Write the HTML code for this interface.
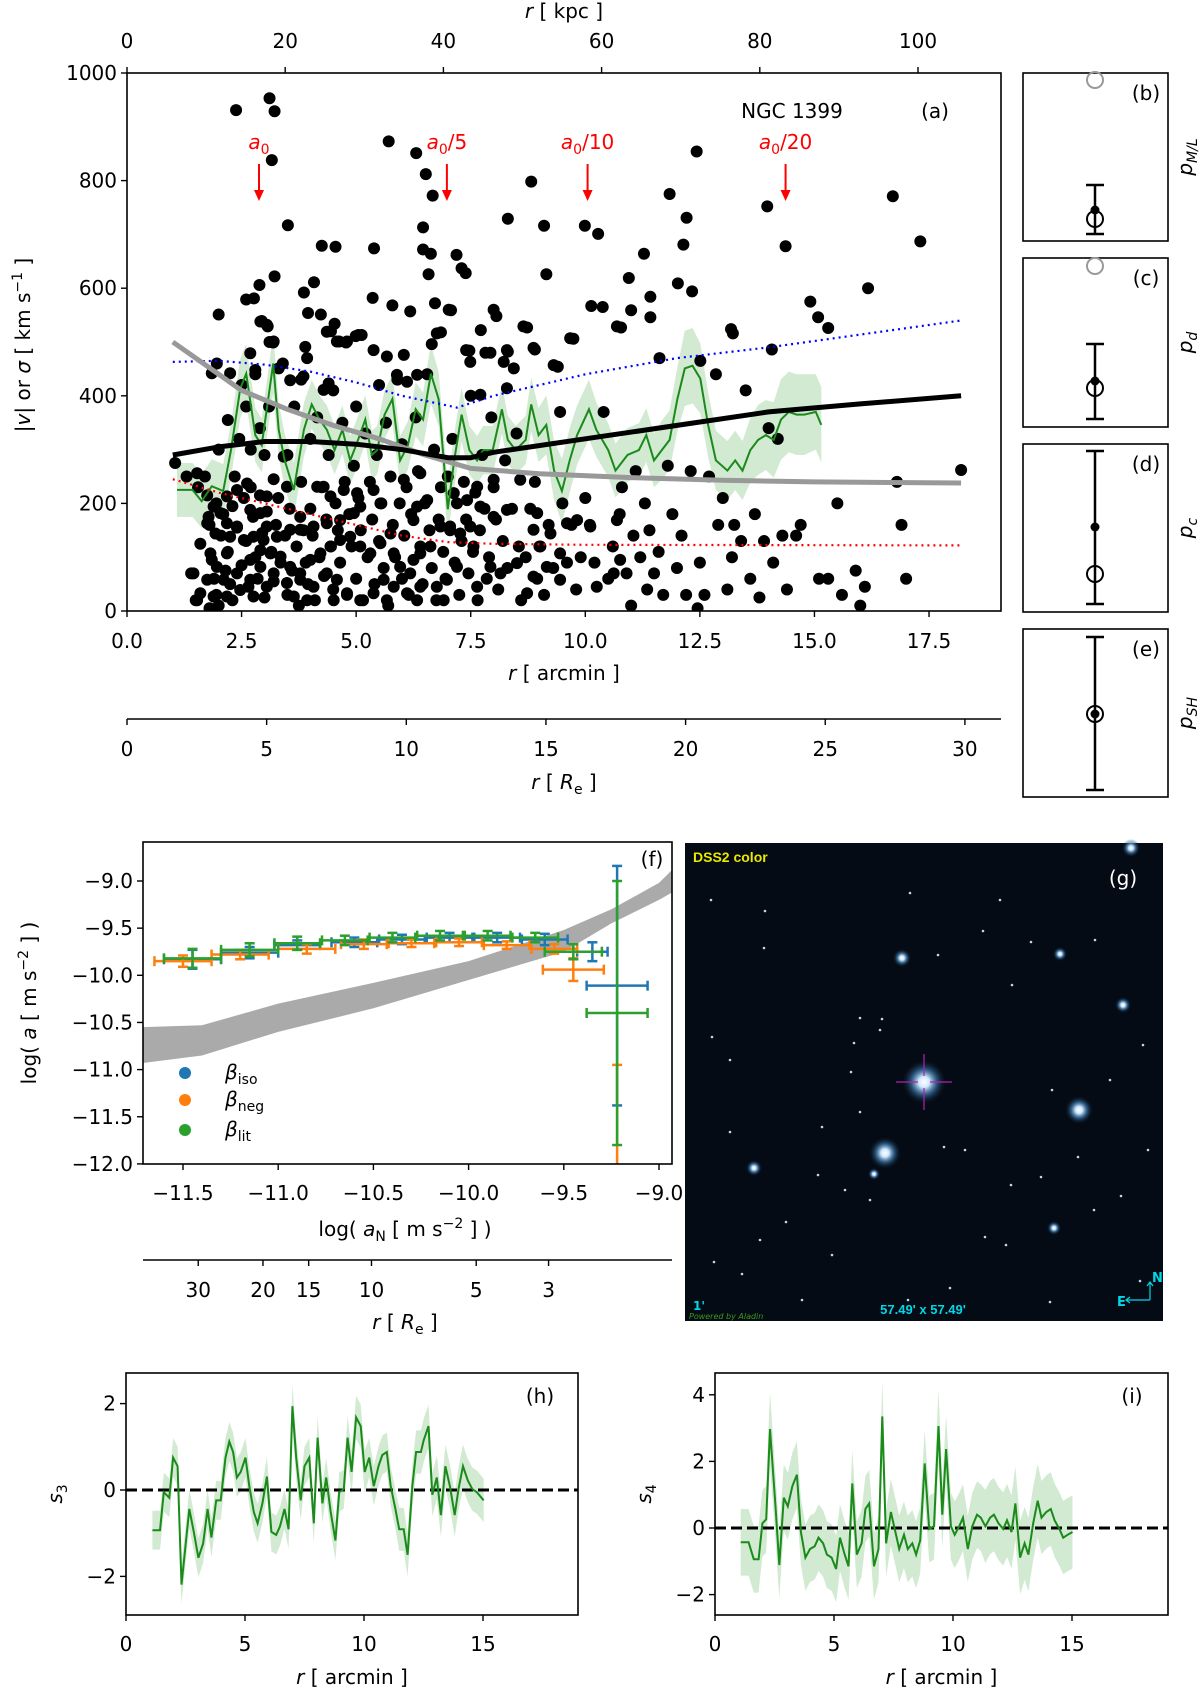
<!DOCTYPE html>
<html><head><meta charset="utf-8"><style>
html,body{margin:0;padding:0;background:#fff;}
svg{display:block;font-family:"DejaVu Sans","Liberation Sans",sans-serif;}
</style></head><body>
<svg id="fig" width="1200" height="1692" viewBox="0 0 1200 1692" xmlns="http://www.w3.org/2000/svg">
<defs>
<radialGradient id="starG"><stop offset="0" stop-color="#ffffff"/><stop offset="0.25" stop-color="#cfe8ff"/><stop offset="0.6" stop-color="#3d7fb8" stop-opacity="0.6"/><stop offset="1" stop-color="#0a1a2c" stop-opacity="0"/></radialGradient>
</defs>
</svg>
<script>
// ---------- panel (a) data ----------
const scatR=[2.38,3.11,3.22,3.16,5.71,6.31,6.52,6.67,8.82,12.43,3.51,6.46,4.25,4.55,5.39,6.46,6.63,7.19,8.31,9.10,9.99,10.28,11.84,12.21,12.14,13.97,14.37,16.71,17.31,11.28,7.30,7.39,9.15,6.58,3.22,2.89,2.77,2.60,4.08,3.86,2.00,3.95,4.23,2.94,3.07,3.11,3.19,4.53,4.45,4.63,4.78,4.99,5.12,5.36,5.79,6.18,6.72,7.07,6.85,7.47,7.72,7.93,8.06,8.31,8.73,8.90,9.40,9.74,10.13,10.38,10.78,10.95,11.00,11.42,11.42,11.62,12.02,12.33,12.51,13.18,13.22,14.07,14.91,15.08,15.30,16.17,
1.05,1.3,1.4,1.5,1.55,1.6,1.7,1.75,1.8,1.8,1.85,1.9,1.95,1.95,2.0,2.0,2.05,2.1,2.15,2.2,2.2,2.25,2.3,2.3,2.35,2.4,2.45,2.5,2.5,2.55,2.6,2.6,2.65,2.7,2.7,2.75,2.8,2.8,2.85,2.9,2.9,2.95,3.0,3.0,3.05,3.1,3.15,3.2,3.2,3.25,3.3,3.35,3.4,3.45,3.5,3.5,3.55,3.6,3.65,3.7,3.75,3.8,3.8,3.85,3.9,3.95,4.0,4.0,4.05,4.1,4.15,4.2,4.25,4.3,4.35,4.4,4.45,4.5,4.5,4.55,4.6,4.65,4.7,4.75,4.8,4.85,4.9,4.95,5.0,5.0,5.05,5.1,5.15,5.2,5.25,5.3,5.35,5.4,5.45,5.5,5.5,5.55,5.6,5.65,5.7,5.75,5.8,5.85,5.9,5.95,6.0,6.0,6.05,6.1,6.15,6.2,6.25,6.3,6.35,6.4,6.45,6.5,6.55,6.6,6.65,6.7,6.75,6.8,6.85,6.9,6.95,7.0,7.05,7.1,7.15,7.2,7.25,7.3,7.35,7.4,7.45,7.5,7.55,7.6,7.65,7.7,7.75,7.8,7.85,7.9,7.95,8.0,8.05,8.1,8.2,8.25,8.3,8.4,8.5,8.55,8.6,8.7,8.8,8.9,8.95,9.0,9.1,9.2,9.3,9.45,9.5,9.6,9.7,9.8,9.9,10.0,10.1,10.2,10.4,10.5,10.6,10.75,10.8,10.9,11.0,11.05,11.1,11.2,11.3,11.35,11.4,11.5,11.6,11.7,11.8,11.9,12.0,12.1,12.2,12.3,12.45,12.5,12.6,12.7,12.85,12.9,13.0,13.1,13.2,13.25,13.4,13.5,13.6,13.7,13.8,13.9,14.0,14.1,14.2,14.3,14.4,14.6,14.7,15.1,15.3,15.5,15.6,15.9,16.0,16.1,16.8,16.9,17.0,18.2,
1.78,1.89,2.04,1.75,2.18,1.93,2.40,2.69,2.91,3.05,2.76,2.98,3.27,3.56,3.78,4.07,4.36,4.65,4.95,5.09,5.38,5.53,4.44,4.73,5.02,4.29,1.82,2.18,1.96,1.75,2.11,2.40,2.69,2.91,3.13,3.35,3.56,3.78,4.00,4.22,4.44,4.65,4.87,5.09,5.31,5.53,5.75,5.82,5.96,6.18,6.40,6.62,6.84,7.05,7.27,7.49,7.56,7.20,6.98,6.76,6.40,6.11,5.82,5.60,5.38,5.09,4.80,4.58,4.36,4.07,3.78,3.49,3.20,2.91,2.69,2.47,2.18,1.89,1.60,1.53,2.76,3.05,3.64,3.93,4.51,5.67,6.33,6.91,7.64,7.93,8.15,8.51,8.73,8.87,9.16,9.45,9.45,9.02,8.87,9.24,9.60,9.82,10.11,10.25,10.62,10.76,10.69,8.95,8.29,8.00,7.71,7.42,7.13,7.64,8.00,8.58,6.25,6.40,6.04,6.55,6.33,2.18,2.40,2.62,3.05,3.49,3.78,4.15,3.42,1.53,1.45,2.25,2.55,
1.96,1.85,2.25,2.69,2.80,3.31,3.56,3.85,3.93,3.89,4.36,4.58,4.80,5.05,5.38,5.67,6.04,5.89,6.11,6.33,4.40,4.29,6.76,6.65,7.40,7.49,7.82,8.29,8.22,8.44,8.87,9.31,9.67,8.65,8.29,7.71,10.69,3.05,2.91,3.20,8.0,7.02];
const scatV=[931,953,929,838,873,851,812,772,798,854,717,713,679,677,674,672,664,662,729,716,716,701,775,731,681,752,678,771,687,664,637,628,626,626,622,606,581,579,611,592,551,554,551,539,529,500,499,534,520,501,499,511,513,582,568,557,572,559,518,484,522,480,548,482,527,486,454,506,567,565,527,619,559,584,546,470,609,594,465,524,516,486,575,546,526,600,
275,250,70,20,230,125,250,215,5,160,95,60,200,30,300,10,140,180,75,110,355,50,195,20,250,155,320,420,85,210,130,380,45,230,300,175,100,440,60,340,215,145,25,290,185,380,110,245,55,160,210,90,460,140,30,290,190,75,380,120,10,240,430,150,90,50,320,190,140,20,360,100,230,65,170,290,120,410,40,200,150,90,350,240,30,180,120,270,60,380,210,150,20,330,100,240,170,50,290,420,130,200,80,350,10,250,160,100,430,200,60,310,140,230,30,180,95,360,260,120,50,200,440,150,80,300,20,170,230,110,60,250,150,320,90,200,30,130,240,170,70,400,110,220,20,150,290,190,60,100,360,230,170,40,130,280,80,190,330,120,20,100,190,240,60,120,30,160,80,370,200,90,160,40,100,210,160,90,370,60,120,180,230,70,10,140,260,100,200,40,150,70,110,30,270,180,80,140,30,260,5,90,30,250,440,160,210,40,100,160,130,410,60,180,25,130,340,90,320,140,40,140,160,60,60,200,30,75,10,45,240,160,60,262,
175,194,182,163,163,144,157,188,182,157,138,132,138,151,151,157,163,169,182,194,225,200,213,225,219,231,107,107,82,58,58,70,95,113,107,101,82,70,95,107,120,132,138,120,107,126,144,107,82,70,107,120,157,157,144,157,120,82,58,45,45,33,45,58,33,20,33,58,70,45,58,52,70,82,58,39,27,27,33,20,27,45,27,20,20,20,20,20,45,82,70,89,33,64,82,58,107,120,151,144,163,169,157,45,70,95,169,182,188,175,194,206,219,231,244,244,169,256,244,206,194,213,225,237,213,231,175,231,287,256,70,138,132,
460,442,442,479,448,451,429,436,470,491,519,501,501,513,485,473,476,439,426,439,423,411,516,496,485,463,480,485,463,451,489,457,507,529,414,402,529,532,538,501,560,560];
const blackR=[1.0,2,3,4,5,6,7,7.5,8,10,12,14,16,18.2];
const blackV=[290,305,315,315,310,300,285,285,295,320,345,370,385,400];
const greyR=[1.0,1.5,2.5,3.5,4.5,5.5,6.5,7.5,9,11,13,15,18.2];
const greyV=[500,470,410,375,345,320,290,265,255,248,243,240,238];
const blueR=[1.0,2,3,4,5,6,7.2,8,10,12,14,18.2];
const blueV=[463,465,458,445,425,400,378,400,440,470,490,540];
const redR=[1.0,2,3,4,5,6,7,8,10,18.2];
const redV=[245,220,200,180,160,140,128,125,123,122];
const greenR=[1.09,1.43,1.63,1.85,2.10,2.27,2.47,2.60,2.80,2.94,3.19,3.31,3.44,3.64,3.86,4.03,4.20,4.36,4.53,4.70,4.87,5.00,5.20,5.34,5.46,5.62,5.79,5.96,6.13,6.30,6.46,6.63,6.80,7.00,7.14,7.30,7.47,7.64,7.77,7.98,8.18,8.31,8.48,8.70,8.82,8.98,9.15,9.32,9.49,9.66,9.82,10.08,10.24,10.50,10.66,10.92,11.17,11.33,11.50,11.67,11.84,12.01,12.17,12.34,12.51,12.68,12.85,13.10,13.27,13.43,13.60,13.77,13.94,14.11,14.27,14.44,14.61,14.78,15.03,15.15];
const greenV=[225,225,204,232,223,299,413,441,327,308,460,337,280,225,337,384,356,337,299,337,280,308,356,290,299,365,394,280,308,375,356,441,394,189,280,365,299,280,299,299,375,318,299,318,384,327,346,261,223,280,327,375,337,299,261,290,299,327,280,299,318,394,451,456,432,346,280,261,280,261,299,318,327,318,356,370,365,365,370,346];
const greenE=[50,50,50,50,50,50,55,55,50,50,55,50,50,50,50,45,45,45,45,45,45,45,45,45,45,45,45,45,45,50,50,55,50,50,50,50,45,45,45,45,45,45,45,45,50,50,55,55,60,60,55,55,50,50,50,50,50,50,50,55,55,60,70,70,65,60,55,55,55,55,60,65,65,70,75,75,75,75,70,70];
const arrowR=[2.88,6.98,10.05,14.37];
const arrowLab=['','/5','/10','/20'];
const tickArc=[0,2.5,5,7.5,10,12.5,15,17.5];
const tickArcLab=['0.0','2.5','5.0','7.5','10.0','12.5','15.0','17.5'];
const tickKpc=[0,20,40,60,80,100];
const tickRe=[0,5,10,15,20,25,30];
const tickV=[0,200,400,600,800,1000];
// ---------- panel (f) data ----------
const isoX=[-11.45,-11.15,-10.9,-10.6,-10.35,-10.1,-9.85,-9.6,-9.35,-9.22];
const isoY=[-9.83,-9.76,-9.68,-9.65,-9.62,-9.6,-9.6,-9.62,-9.75,-10.11];
const isoXe=[0.15,0.15,0.12,0.12,0.12,0.12,0.12,0.12,0.08,0.16];
const isoYe=[0.1,0.06,0.05,0.05,0.05,0.05,0.05,0.06,0.1,1.27];
const negX=[-11.5,-11.2,-10.85,-10.55,-10.3,-10.05,-9.8,-9.55,-9.45,-9.22];
const negY=[-9.85,-9.78,-9.72,-9.67,-9.66,-9.65,-9.68,-9.72,-9.94,-11.5];
const negXe=[0.15,0.15,0.15,0.12,0.12,0.12,0.12,0.12,0.16,0.0];
const negYe=[0.06,0.05,0.05,0.05,0.04,0.04,0.04,0.05,0.12,0.55];
const litX=[-11.45,-11.15,-10.9,-10.65,-10.4,-10.15,-9.9,-9.65,-9.45,-9.22];
const litY=[-9.82,-9.73,-9.66,-9.63,-9.6,-9.58,-9.58,-9.6,-9.75,-10.4];
const litXe=[0.15,0.15,0.12,0.12,0.12,0.12,0.12,0.12,0.15,0.16];
const litYe=[0.1,0.07,0.07,0.05,0.05,0.05,0.05,0.05,0.08,1.4];
const bandX=[-11.71,-11.4,-11.0,-10.5,-10.0,-9.5,-9.25,-9.0,-8.93];
const bandHi=[-10.55,-10.53,-10.3,-10.08,-9.85,-9.52,-9.3,-9.02,-8.88];
const bandLo=[-10.93,-10.85,-10.6,-10.35,-10.05,-9.75,-9.45,-9.2,-9.12];
const tickF=[-11.5,-11.0,-10.5,-10.0,-9.5,-9.0];
const tickFLab=['\u221211.5','\u221211.0','\u221210.5','\u221210.0','\u22129.5','\u22129.0'];
const tickFy=[-9.0,-9.5,-10.0,-10.5,-11.0,-11.5,-12.0];
const tickFyLab=['\u22129.0','\u22129.5','\u221210.0','\u221210.5','\u221211.0','\u221211.5','\u221212.0'];
const reFpos=[-11.42,-11.08,-10.84,-10.51,-9.96,-9.58];
const reFlab=['30','20','15','10','5','3'];
// ---------- panels (h),(i) ----------
const s3R=[1.11,1.43,1.59,1.82,1.98,2.17,2.33,2.66,2.85,3.04,3.24,3.43,3.59,3.79,3.98,4.18,4.34,4.50,4.66,4.82,5.02,5.18,5.37,5.53,5.73,5.92,6.11,6.31,6.47,6.66,6.83,6.99,7.15,7.34,7.50,7.70,7.89,8.05,8.25,8.41,8.60,8.80,8.96,9.15,9.31,9.48,9.67,9.86,10.03,10.22,10.41,10.61,10.77,10.96,11.12,11.32,11.48,11.67,11.83,12.03,12.19,12.39,12.51,12.71,12.87,13.06,13.23,13.42,13.61,13.81,13.97,14.16,14.36,14.55,14.74,15.03];
const s3V=[-0.93,-0.93,-0.05,-0.18,0.75,0.55,-2.19,-0.44,-0.97,-1.57,-1.24,-0.44,-1.10,-0.24,-0.24,0.75,1.12,0.88,0.29,0.42,0.75,0.09,-0.51,-0.77,-0.31,0.31,-0.97,-1.04,-0.84,-0.44,-0.91,1.94,0.75,-0.24,0.55,0.75,-0.77,1.21,-0.31,0.29,-0.51,-1.17,-0.05,0.02,1.21,0.42,1.68,1.48,0.42,0.75,0.09,0.55,0.81,0.88,0.09,-0.44,-0.91,-0.91,-1.50,0.09,0.88,0.88,1.15,1.48,-0.11,0.29,-0.58,0.55,0.09,-0.58,0.02,0.55,0.22,0.02,-0.05,-0.24];
const s3E=[0.45,0.45,0.45,0.45,0.45,0.45,0.45,0.45,0.45,0.45,0.45,0.45,0.45,0.45,0.45,0.45,0.45,0.45,0.45,0.45,0.45,0.45,0.45,0.45,0.45,0.45,0.45,0.45,0.45,0.45,0.45,0.5,0.5,0.45,0.45,0.45,0.45,0.5,0.45,0.45,0.45,0.45,0.45,0.45,0.5,0.5,0.5,0.5,0.5,0.45,0.45,0.45,0.45,0.45,0.45,0.45,0.5,0.5,0.5,0.5,0.5,0.5,0.5,0.5,0.5,0.5,0.5,0.5,0.5,0.5,0.5,0.5,0.5,0.5,0.5,0.5];
const s4R=[1.08,1.41,1.63,1.83,1.99,2.15,2.31,2.54,2.70,2.89,3.06,3.25,3.44,3.61,3.80,3.99,4.19,4.35,4.54,4.70,4.90,5.09,5.25,5.45,5.61,5.77,5.96,6.16,6.32,6.48,6.68,6.87,7.03,7.19,7.39,7.58,7.74,7.94,8.10,8.29,8.45,8.62,8.81,9.00,9.20,9.39,9.55,9.71,9.91,10.07,10.26,10.42,10.62,10.81,11.01,11.17,11.36,11.56,11.72,11.91,12.11,12.27,12.46,12.62,12.82,13.01,13.17,13.37,13.56,13.72,13.92,14.11,14.27,14.47,14.63,14.82,15.02];
const s4V=[-0.43,-0.43,-0.94,-0.94,0.14,0.26,2.97,0.65,-1.11,0.91,0.65,1.26,1.60,-0.12,-0.89,-0.63,-0.55,-0.29,-0.46,-0.80,-0.89,-1.23,-0.29,-0.80,-1.15,1.34,-0.80,-0.46,0.57,0.74,-1.15,-0.63,3.35,-0.46,0.48,-0.12,-0.63,-0.20,-0.63,-0.46,-0.80,-0.37,1.94,-0.03,0.05,3.06,0.40,2.37,0.05,-0.20,0.05,0.31,-0.63,0.05,0.40,0.31,0.05,0.31,0.40,0.14,-0.03,0.23,-0.12,0.74,-0.89,-0.46,-0.80,0.14,0.82,0.31,0.48,0.57,0.23,-0.03,-0.29,-0.20,-0.12];
const s4E=[1.0,1.0,1.0,1.0,1.0,1.0,1.1,1.0,1.0,1.0,1.0,1.0,1.0,1.0,1.0,1.0,1.0,1.0,1.0,1.0,1.0,1.0,1.0,1.0,1.0,1.0,1.0,1.0,1.0,1.0,1.0,1.0,1.1,1.0,1.0,1.0,1.0,1.0,1.0,1.0,1.0,1.0,1.0,1.0,1.0,1.1,1.0,1.0,1.0,1.0,1.0,1.0,1.0,1.0,1.0,1.0,1.1,1.1,1.1,1.1,1.1,1.1,1.1,1.1,1.1,1.1,1.1,1.1,1.1,1.1,1.1,1.1,1.1,1.1,1.1,1.1,1.1];
// ---------- image stars (g) ----------
const starX=[924,1079,885,902,1060,1131,754,1054,874,1123];
const starY=[1082,1110,1153,958,954,848,1168,1228,1174,1005];
const starS=[22,14,16,9,7,9,8,7,6,8];
const dotX=[711,765,764,712,730,860,854,882,938,983,1000,1031,1095,1143,1110,1052,851,860,822,818,845,870,944,1011,1041,1078,1121,1140,908,832,742,714,786,802,950,985,1006,1050,1094,1148,730,760,880,910,1012,965];
const dotY=[900,911,948,1037,1132,1018,1043,1019,955,931,900,942,940,1045,1080,1090,1072,1112,1127,1175,1190,1200,1147,1185,1177,1157,1196,1281,1300,1255,1274,1262,1222,1300,1288,1237,1245,1302,1210,1150,1060,1240,1030,893,985,1150];

const svg=document.getElementById('fig');
const NS='http://www.w3.org/2000/svg';
function el(tag,attrs,parent){const e=document.createElementNS(NS,tag);for(const k in attrs)e.setAttribute(k,attrs[k]);(parent||svg).appendChild(e);return e;}
function txt(x,y,s,anchor,size,extra){const t=el('text',Object.assign({x:x,y:y,'text-anchor':anchor||'middle','font-size':size||20,fill:'#000'},extra||{}));t.textContent=s;return t;}
function poly(xs,ys,fx,fy){return xs.map((v,i)=>fx(v).toFixed(1)+','+fy(ys[i]).toFixed(1)).join(' ');}

// ================= PANEL A =================
const AX0=127,AX1=1001,AY0=73,AY1=611;
const xa=r=>AX0+r*45.83, ya=v=>AY1-v*0.538;
const xk=k=>AX0+k*7.91, xre=q=>AX0+q*27.93;
const gA=el('g',{});


const clipA=el('clipPath',{id:'clipA'},gA);const cr=el('rect',{x:AX0,y:AY0,width:AX1-AX0,height:AY1-AY0},clipA);
const plotA=el('g',{'clip-path':'url(#clipA)'},gA);
const bandPts=greenR.map((r,i)=>xa(r)+','+ya(greenV[i]+greenE[i])).concat(greenR.slice().reverse().map((r,j)=>{const i=greenR.length-1-j;return xa(r)+','+ya(greenV[i]-greenE[i]);})).join(' ');
const gb=el('polygon',{points:bandPts,fill:'#2ca02c','fill-opacity':0.22,stroke:'none'},plotA);


for(let i=0;i<scatR.length;i++){const c=el('circle',{cx:xa(scatR[i]),cy:ya(scatV[i]),r:6,fill:'#000'},plotA);

}
const gl=el('polyline',{points:poly(greenR,greenV,xa,ya),fill:'none',stroke:'#1a8a1a','stroke-width':2},plotA);


const bl=el('polyline',{points:poly(blueR,blueV,xa,ya),fill:'none',stroke:'#0000ff','stroke-width':2.2,'stroke-dasharray':'2,4'},plotA);


const rl=el('polyline',{points:poly(redR,redV,xa,ya),fill:'none',stroke:'#ff0000','stroke-width':2.2,'stroke-dasharray':'2,4'},plotA);


const gyl=el('polyline',{points:poly(greyR,greyV,xa,ya),fill:'none',stroke:'#999','stroke-width':5,'stroke-linejoin':'round'},plotA);


const bkl=el('polyline',{points:poly(blackR,blackV,xa,ya),fill:'none',stroke:'#000','stroke-width':5,'stroke-linejoin':'round'},plotA);


for(let i=0;i<arrowR.length;i++){const x=xa(arrowR[i]);
const a=el('line',{x1:x,y1:164,x2:x,y2:196,stroke:'#ff0000','stroke-width':2},gA);


const h=el('polygon',{points:`${x-5},${190} ${x+5},${190} ${x},${201}`,fill:'#ff0000'},gA);


const t=el('text',{x:x,y:149,'text-anchor':'middle','font-size':20,fill:'#ff0000'},gA);


const s1=el('tspan',{'font-style':'italic'},t);s1.textContent='a';
const s2=el('tspan',{'font-size':14,dy:5},t);s2.textContent='0';
const s3=el('tspan',{dy:-5},t);s3.textContent=arrowLab[i];}
const frA=el('rect',{x:AX0,y:AY0,width:AX1-AX0,height:AY1-AY0,fill:'none',stroke:'#000','stroke-width':1.6},gA);


tickArc.forEach((r,i)=>{const x=xa(r);el('line',{x1:x,y1:AY1,x2:x,y2:AY1+6,stroke:'#000','stroke-width':1.4},gA);
const t=txt(x,648,tickArcLab[i]);
});
tickKpc.forEach(k=>{const x=xk(k);el('line',{x1:x,y1:AY0,x2:x,y2:AY0-6,stroke:'#000','stroke-width':1.4},gA);
const t=txt(x,48,String(k));
});
tickV.forEach(v=>{const y=ya(v);el('line',{x1:AX0,y1:y,x2:AX0-6,y2:y,stroke:'#000','stroke-width':1.4},gA);
const t=txt(117,y+7,String(v),'end');
});
const reLine=el('line',{x1:AX0,y1:719,x2:AX1,y2:719,stroke:'#000','stroke-width':1.6},gA);


tickRe.forEach(q=>{const x=xre(q);el('line',{x1:x,y1:719,x2:x,y2:725,stroke:'#000','stroke-width':1.4},gA);
const t=txt(x,756,String(q));
});
let t1=el('text',{x:564,y:680,'text-anchor':'middle','font-size':20},gA);t1.innerHTML='<tspan font-style="italic">r</tspan>  [ arcmin ]';


let t2=el('text',{x:564,y:18,'text-anchor':'middle','font-size':20},gA);t2.innerHTML='<tspan font-style="italic">r</tspan>  [ kpc ]';


let t3=el('text',{x:564,y:789,'text-anchor':'middle','font-size':20},gA);t3.innerHTML='<tspan font-style="italic">r</tspan>  [ <tspan font-style="italic">R</tspan><tspan font-size="14" dy="5">e</tspan><tspan dy="-5"> ]</tspan>';


let t4=el('text',{x:0,y:0,'text-anchor':'middle','font-size':20,transform:'translate(30,345) rotate(-90)'},gA);t4.innerHTML='|<tspan font-style="italic">v</tspan>|  or  <tspan font-style="italic">σ</tspan>  [ km s<tspan font-size="14" dy="-8">−1</tspan><tspan dy="8"> ]</tspan>';


let t5=txt(792,118,'NGC 1399');

let t6=txt(935,118,'(a)');


// ================= SIDE PANELS b-e =================
const sideY=[[73,241],[258,427],[444,612],[629,797]];
const sideLab=['(b)','(c)','(d)','(e)'];
const sideErr=[[185,234],[344,419],[451,604],[637,790]];
const sideCirc=[219,388,574,714];
const sideDot=[210,381,527,714];
const sideGrey=[80,266,null,null];
const sideY2=[['p','M/L'],['p','d'],['p','c'],['p','SH']];
for(let i=0;i<4;i++){
const g=el('g',{});

const r=el('rect',{x:1023,y:sideY[i][0],width:145,height:sideY[i][1]-sideY[i][0],fill:'none',stroke:'#000','stroke-width':1.6},g);


const x=1095;
const e=el('line',{x1:x,y1:sideErr[i][0],x2:x,y2:sideErr[i][1],stroke:'#000','stroke-width':2.5},g);


[sideErr[i][0],sideErr[i][1]].forEach(yy=>{const c=el('line',{x1:x-9,y1:yy,x2:x+9,y2:yy,stroke:'#000','stroke-width':2.5},g);

});
const d=el('circle',{cx:x,cy:sideDot[i],r:4.5,fill:'#000'},g);


const c=el('circle',{cx:x,cy:sideCirc[i],r:8,fill:'none',stroke:'#000','stroke-width':2},g);


if(sideGrey[i]){const gc=el('circle',{cx:x,cy:sideGrey[i],r:8,fill:'none',stroke:'#999','stroke-width':2},g);

}
const l=txt(1146,sideY[i][0]+27,sideLab[i],'middle',20);

const yl=el('text',{x:0,y:0,'text-anchor':'middle','font-size':20,transform:`translate(1192,${(sideY[i][0]+sideY[i][1])/2}) rotate(-90)`},g);
yl.innerHTML=`<tspan font-style="italic">${sideY2[i][0]}</tspan><tspan font-size="14" font-style="italic" dy="5">${sideY2[i][1]}</tspan>`;


}

// ================= PANEL F =================
const FX0=143,FX1=672,FY0=842,FY1=1164;
const xf=v=>183+(v+11.5)*190.4, yf=v=>881-(v+9.0)*94.3;
const gF=el('g',{});

const clipF=el('clipPath',{id:'clipF'},gF);el('rect',{x:FX0,y:FY0,width:FX1-FX0,height:FY1-FY0},clipF);
const plotF=el('g',{'clip-path':'url(#clipF)'},gF);
const bp=bandX.map((v,i)=>xf(v)+','+yf(bandHi[i])).concat(bandX.slice().reverse().map((v,j)=>{const i=bandX.length-1-j;return xf(v)+','+yf(bandLo[i]);})).join(' ');
const bnd=el('polygon',{points:bp,fill:'#aaa',stroke:'none'},plotF);


function errSeries(X,Y,Xe,Ye,col,name){for(let i=0;i<X.length;i++){
const g=el('g',{},plotF);

const x=xf(X[i]),y=yf(Y[i]);
if(Xe[i]>0){el('line',{x1:xf(X[i]-Xe[i]),y1:y,x2:xf(X[i]+Xe[i]),y2:y,stroke:col,'stroke-width':2.5},g);
[X[i]-Xe[i],X[i]+Xe[i]].forEach(v=>el('line',{x1:xf(v),y1:y-5,x2:xf(v),y2:y+5,stroke:col,'stroke-width':2.5},g));}
el('line',{x1:x,y1:yf(Y[i]+Ye[i]),x2:x,y2:yf(Y[i]-Ye[i]),stroke:col,'stroke-width':2.5},g);
[Y[i]+Ye[i],Y[i]-Ye[i]].forEach(v=>el('line',{x1:x-5,y1:yf(v),x2:x+5,y2:yf(v),stroke:col,'stroke-width':2.5},g));}}
errSeries(isoX,isoY,isoXe,isoYe,'#1f77b4','beta-iso');
errSeries(negX,negY,negXe,negYe,'#ff7f0e','beta-neg');
errSeries(litX,litY,litXe,litYe,'#2ca02c','beta-lit');
const frF=el('rect',{x:FX0,y:FY0,width:FX1-FX0,height:FY1-FY0,fill:'none',stroke:'#000','stroke-width':1.6},gF);


tickF.forEach((v,i)=>{const x=xf(v);el('line',{x1:x,y1:FY1,x2:x,y2:FY1+6,stroke:'#000','stroke-width':1.4},gF);
const t=txt(x,1200,tickFLab[i]);
});
tickFy.forEach((v,i)=>{const y=yf(v);el('line',{x1:FX0,y1:y,x2:FX0-6,y2:y,stroke:'#000','stroke-width':1.4},gF);
const t=txt(133,y+7,tickFyLab[i],'end');
});
const reF=el('line',{x1:FX0,y1:1260,x2:FX1,y2:1260,stroke:'#000','stroke-width':1.6},gF);


reFpos.forEach((v,i)=>{const x=xf(v);el('line',{x1:x,y1:1260,x2:x,y2:1266,stroke:'#000','stroke-width':1.4},gF);
const t=txt(x,1297,reFlab[i]);
});
let f1=el('text',{x:405,y:1236,'text-anchor':'middle','font-size':20},gF);f1.innerHTML='log( <tspan font-style="italic">a</tspan><tspan font-size="14" dy="5">N</tspan><tspan dy="-5">  [ m s</tspan><tspan font-size="14" dy="-8">−2</tspan><tspan dy="8"> ] )</tspan>';


let f2=el('text',{x:405,y:1329,'text-anchor':'middle','font-size':20},gF);f2.innerHTML='<tspan font-style="italic">r</tspan> [ <tspan font-style="italic">R</tspan><tspan font-size="14" dy="5">e</tspan><tspan dy="-5"> ]</tspan>';


let f3=el('text',{x:0,y:0,'text-anchor':'middle','font-size':20,transform:'translate(36,1003) rotate(-90)'},gF);f3.innerHTML='log( <tspan font-style="italic">a</tspan>  [ m s<tspan font-size="14" dy="-8">−2</tspan><tspan dy="8"> ] )</tspan>';


let f4=txt(652,866,'(f)');

const legC=['#1f77b4','#ff7f0e','#2ca02c'],legS=['iso','neg','lit'],legY=[1073,1100,1130];
for(let i=0;i<3;i++){const g=el('g',{},gF);

el('circle',{cx:185,cy:legY[i],r:6,fill:legC[i]},g);
const t=el('text',{x:225,y:legY[i]+6,'font-size':20},g);t.innerHTML=`<tspan font-style="italic">β</tspan><tspan font-size="14" dy="5">${legS[i]}</tspan>`;}

// ================= PANEL G image =================
const gG=el('g',{});

const bg=el('rect',{x:685,y:843,width:478,height:478,fill:'#050b14'},gG);


dotX.forEach((x,i)=>{const d=el('circle',{cx:x,cy:dotY[i],r:1.3,fill:'#bcd8f0'},gG);

});
starX.forEach((x,i)=>{const s=el('circle',{cx:x,cy:starY[i],r:starS[i],fill:'url(#starG)'},gG);

});
const ch=el('path',{d:'M896 1082H918M930 1082H952M924 1054V1076M924 1088V1110',stroke:'#b020b0','stroke-width':1.2,fill:'none'},gG);


let g1=el('text',{x:693,y:862,'font-size':14,'font-weight':'bold',fill:'#e8e800','font-family':'Liberation Sans, sans-serif'},gG);g1.textContent='DSS2 color';


let g2=txt(1123,885,'(g)','middle',20,{fill:'#fff'});gG.appendChild(g2);


let g3=el('text',{x:923,y:1314,'text-anchor':'middle','font-size':13,'font-weight':'bold',fill:'#00d8e8','font-family':'Liberation Sans, sans-serif'},gG);g3.textContent="57.49' x 57.49'";


let g4=el('text',{x:693,y:1310,'font-size':12,'font-weight':'bold',fill:'#00d8e8'},gG);g4.textContent="1'";


let g5=el('text',{x:689,y:1319,'font-size':8,'font-style':'italic',fill:'#3a9a1a'},gG);g5.textContent='Powered by Aladin';


let g6=el('path',{d:'M1150 1300V1282M1147 1286L1150 1282L1153 1286M1150 1300H1126M1130 1297L1126 1300L1130 1303',stroke:'#00d8e8','stroke-width':1.2,fill:'none'},gG);


let g7=el('text',{x:1152,y:1282,'font-size':13,'font-weight':'bold',fill:'#00d8e8'},gG);g7.textContent='N';


let g8=el('text',{x:1117,y:1306,'font-size':13,'font-weight':'bold',fill:'#00d8e8'},gG);g8.textContent='E';



// ================= PANELS H & I =================
function momentPanel(id,X0,X1,yZero,pxU,R,V,E,yticks,ylab,lab,labx){
const Y0=1373,Y1=1615;
const xs=r=>X0+r*23.8, ys=v=>yZero-v*pxU;
const g=el('g',{});

const cp=el('clipPath',{id:'clip'+id},g);el('rect',{x:X0,y:Y0,width:X1-X0,height:Y1-Y0},cp);
const p=el('g',{'clip-path':`url(#clip${id})`},g);
const bp=R.map((r,i)=>xs(r)+','+ys(V[i]+E[i])).concat(R.slice().reverse().map((r,j)=>{const i=R.length-1-j;return xs(r)+','+ys(V[i]-E[i]);})).join(' ');
const b=el('polygon',{points:bp,fill:'#2ca02c','fill-opacity':0.22},p);


const z=el('line',{x1:X0,y1:ys(0),x2:X1,y2:ys(0),stroke:'#000','stroke-width':3,'stroke-dasharray':'11,5'},p);


const l=el('polyline',{points:poly(R,V,xs,ys),fill:'none',stroke:'#1a8a1a','stroke-width':2},p);


const fr=el('rect',{x:X0,y:Y0,width:X1-X0,height:Y1-Y0,fill:'none',stroke:'#000','stroke-width':1.6},g);


[0,5,10,15].forEach(v=>{const x=xs(v);el('line',{x1:x,y1:Y1,x2:x,y2:Y1+6,stroke:'#000','stroke-width':1.4},g);
const t=txt(x,1651,String(v));g.appendChild(t);
});
yticks.forEach(v=>{const y=ys(v);el('line',{x1:X0,y1:y,x2:X0-6,y2:y,stroke:'#000','stroke-width':1.4},g);
const t=txt(X0-10,y+7,v<0?'\u2212'+(-v):String(v),'end');g.appendChild(t);
});
const xt=el('text',{x:(X0+X1)/2,y:1684,'text-anchor':'middle','font-size':20},g);xt.innerHTML='<tspan font-style="italic">r</tspan>  [ arcmin ]';


const yt=el('text',{x:0,y:0,'text-anchor':'middle','font-size':20,transform:`translate(${X0-64},1494) rotate(-90)`},g);yt.innerHTML=`<tspan font-style="italic">s</tspan><tspan font-size="14" dy="5">${ylab}</tspan>`;


const pl=txt(labx,1403,lab);g.appendChild(pl);

}
momentPanel('h',126,578,1490,43.2,s3R,s3V,s3E,[-2,0,2],'3','(h)',540);
momentPanel('i',715,1168,1528,33.3,s4R,s4V,s4E,[-2,0,2,4],'4','(i)',1132);
</script>
</body></html>
